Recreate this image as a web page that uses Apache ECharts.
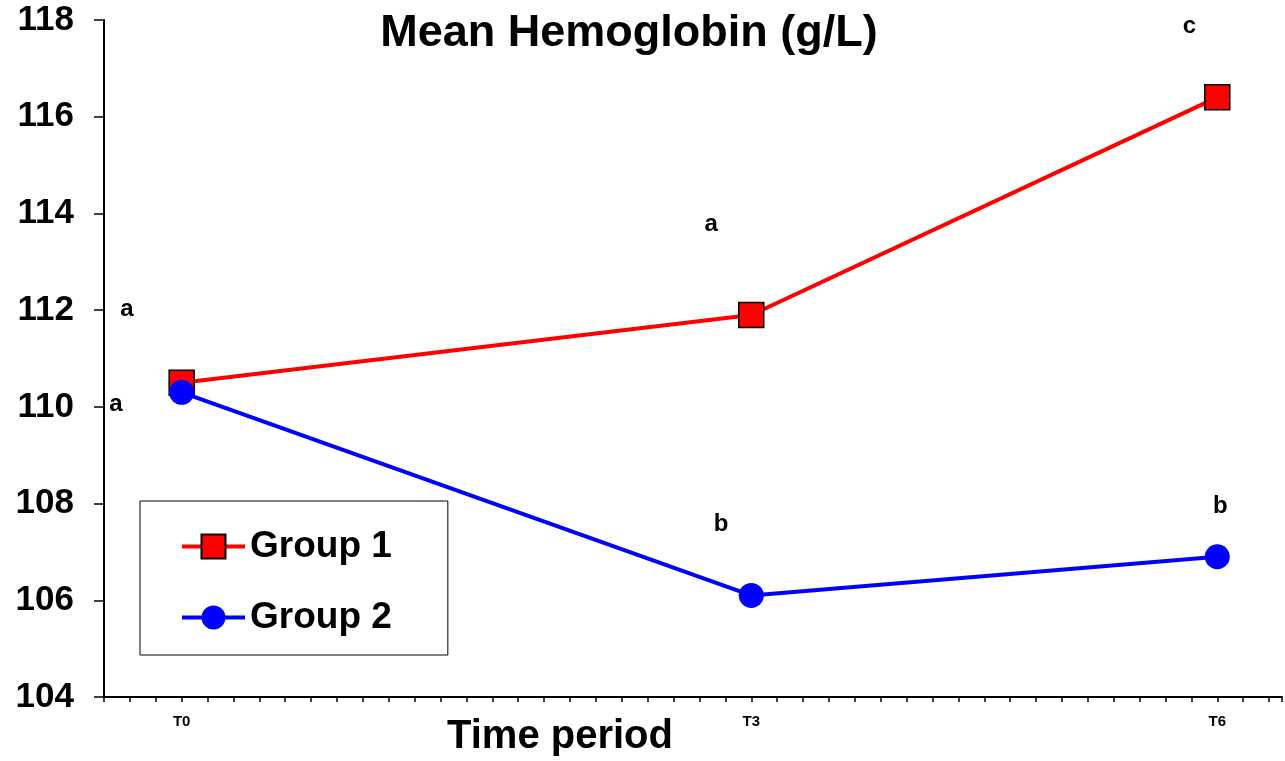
<!DOCTYPE html>
<html>
<head>
<meta charset="utf-8">
<script src="https://cdn.jsdelivr.net/npm/echarts@6/dist/echarts.min.js"></script>
<style>
html, body { margin: 0; padding: 0; background: #fff; }
#chart_main { width: 1285px; height: 761px; }
</style>
</head>
<body>
<div id="chart_main"></div>
<script>
// time points, placed on the original minor-tick scale
var categories = ['T0', 'T3', 'T6'];
var timeX = [3, 25, 43];
var group1 = [110.5, 111.9, 116.4];
var group2 = [110.3, 106.1, 106.9];
var yTicks = [104, 106, 108, 110, 112, 114, 116, 118];

// significance letters: [x, y, letter]
var letters = [
    [0.89, 112.02, 'a'],
    [0.46, 110.05, 'a'],
    [23.45, 113.78, 'a'],
    [23.83, 107.58, 'b'],
    [41.92, 117.86, 'c'],
    [43.12, 107.95, 'b']
];

var FONT = 'Liberation Sans, Arial, sans-serif';

function pairs(xs, ys) {
    var out = [];
    for (var i = 0; i < xs.length; i++) out.push([xs[i], ys[i]]);
    return out;
}

var myChart = echarts.init(document.getElementById('chart_main'));
var option = {
    backgroundColor: '#fff',
    animation: false,
    title: [{
        text: 'Mean Hemoglobin (g/L)',
        left: 624,
        top: 6,
        textAlign: 'center',
        textStyle: { fontFamily: FONT, fontSize: 45, fontWeight: 'bold', color: '#000' }
    }, {
        text: 'Time period',
        left: 555,
        top: 712,
        textAlign: 'center',
        textStyle: { fontFamily: FONT, fontSize: 40, fontWeight: 'bold', color: '#000' }
    }],
    legend: {
        orient: 'vertical',
        left: 140,
        top: 501,
        data: ['Group 1', 'Group 2'],
        itemWidth: 63,
        itemHeight: 30,
        itemGap: 34,
        padding: [27, 56, 19, 40],
        borderColor: '#000',
        borderWidth: 1,
        lineStyle: { width: 4 },
        textStyle: { fontFamily: FONT, fontSize: 37, fontWeight: 'bold', color: '#000' }
    },
    grid: { left: 104, right: 0, top: 20, bottom: 64, containLabel: false },
    xAxis: {
        type: 'value',
        min: 0,
        max: 45.5,
        interval: 1,
        splitLine: { show: false },
        axisLine: { lineStyle: { color: '#000', width: 2 } },
        axisTick: { length: 5, lineStyle: { color: '#000', width: 1.5 } },
        axisLabel: {
            margin: 17,
            fontFamily: FONT,
            fontSize: 15,
            fontWeight: 'bold',
            color: '#000',
            formatter: function (v) {
                var i = timeX.indexOf(v);
                return i >= 0 ? categories[i] : '';
            }
        }
    },
    yAxis: {
        type: 'value',
        min: yTicks[0],
        max: yTicks[yTicks.length - 1],
        interval: 2,
        splitLine: { show: false },
        axisLine: { show: true, lineStyle: { color: '#000', width: 2 } },
        axisTick: { show: true, length: 10, lineStyle: { color: '#000', width: 1.5 } },
        axisLabel: {
            margin: 30,
            fontFamily: FONT,
            fontSize: 35,
            fontWeight: 'bold',
            color: '#000'
        }
    },
    series: [{
        name: 'Group 1',
        type: 'line',
        data: pairs(timeX, group1),
        symbol: 'rect',
        symbolSize: 25,
        z: 3,
        lineStyle: { color: '#ff0000', width: 4 },
        itemStyle: { color: '#ff0000', borderColor: '#000', borderWidth: 1.5 }
    }, {
        name: 'Group 2',
        type: 'line',
        data: pairs(timeX, group2),
        symbol: 'circle',
        symbolSize: 25,
        z: 4,
        lineStyle: { color: '#0000ff', width: 4 },
        itemStyle: { color: '#0000ff', borderWidth: 0 }
    }, {
        name: 'letters',
        type: 'scatter',
        data: letters,
        symbolSize: 0,
        silent: true,
        itemStyle: { opacity: 1 },
        label: {
            show: true,
            position: 'inside',
            formatter: function (p) { return p.data[2]; },
            fontFamily: FONT,
            fontSize: 24,
            fontWeight: 'bold',
            color: '#000',
            opacity: 1,
            textBorderWidth: 0
        }
    }]
};
myChart.setOption(option);
</script>
</body>
</html>
